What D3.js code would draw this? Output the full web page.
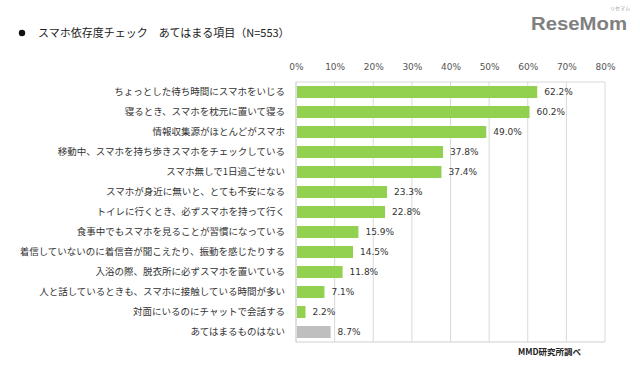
<!DOCTYPE html>
<html>
<head>
<meta charset="utf-8">
<script src="https://cdn.jsdelivr.net/npm/d3@7"></script>
<style>
  body{margin:0;background:#fff;}
  svg{display:block;}
</style>
</head>
<body>
<svg id="chart" width="640" height="371"></svg>
<script>
"use strict";

// data
const categories = [
  "ちょっとした待ち時間にスマホをいじる",
  "寝るとき、スマホを枕元に置いて寝る",
  "情報収集源がほとんどがスマホ",
  "移動中、スマホを持ち歩きスマホをチェックしている",
  "スマホ無しで1日過ごせない",
  "スマホが身近に無いと、とても不安になる",
  "トイレに行くとき、必ずスマホを持って行く",
  "食事中でもスマホを見ることが習慣になっている",
  "着信していないのに着信音が聞こえたり、振動を感じたりする",
  "入浴の際、脱衣所に必ずスマホを置いている",
  "人と話しているときも、スマホに接触している時間が多い",
  "対面にいるのにチャットで会話する",
  "あてはまるものはない"
]
const values = [62.2, 60.2, 49.0, 37.8, 37.4, 23.3, 22.8, 15.9, 14.5, 11.8, 7.1, 2.2, 8.7]
const ticks = [0, 10, 20, 30, 40, 50, 60, 70, 80]

const jp = "'Noto Sans CJK JP', sans-serif"
const num = "'DejaVu Sans', Verdana, sans-serif"
const green = "#92d050"
const grey = "#bfbfbf"

let svg = d3.select("#chart")

// title
svg.append("circle").attr("cx", 22).attr("cy", 33).attr("r", 3.2).attr("fill", "#111")
svg.append("text")
  .attr("x", 38).attr("y", 37)
  .attr("font-family", jp).attr("font-size", 11).attr("fill", "#222")
  .text("スマホ依存度チェック　あてはまる項目（N=553）")

// logo
svg.append("text")
  .attr("x", 531).attr("y", 30)
  .attr("font-family", "'Liberation Sans', Arial, sans-serif")
  .attr("font-weight", "bold").attr("font-size", 18)
  .attr("textLength", 96).attr("lengthAdjust", "spacingAndGlyphs")
  .attr("fill", "#808080")
  .text("ReseMom")
svg.append("text")
  .attr("x", 620).attr("y", 10).attr("text-anchor", "middle")
  .attr("font-family", jp).attr("font-size", 5).attr("fill", "#999")
  .text("リセマム")

let x = d3.scaleLinear().domain([0, 80]).range([296, 605])
let y = d3.scaleBand().domain(categories).range([82, 342]).paddingInner(0.4).paddingOuter(0.2)

// grid
svg.append("g").selectAll("line").data(ticks.slice(1)).enter()
  .append("line")
  .attr("x1", d => x(d)).attr("x2", d => x(d))
  .attr("y1", 82).attr("y2", 342)
  .attr("stroke", "#d9d9d9").attr("stroke-width", 1)
svg.append("line")
  .attr("x1", 296).attr("x2", 605).attr("y1", 82).attr("y2", 82)
  .attr("stroke", "#d9d9d9")
svg.append("line")
  .attr("x1", 296).attr("x2", 605).attr("y1", 342).attr("y2", 342)
  .attr("stroke", "#d0d0d0")
svg.append("line")
  .attr("x1", 296).attr("x2", 296).attr("y1", 82).attr("y2", 342)
  .attr("stroke", "#bfbfbf")

// top axis labels
let xAxis = d3.axisTop(x).tickValues(ticks).tickSize(0).tickPadding(0).tickFormat(d => d + "%")
let ax = svg.append("g").attr("transform", "translate(0,70)").call(xAxis)
ax.select(".domain").remove()
ax.selectAll("text")
  .attr("font-family", num).attr("font-size", 9).attr("fill", "#555")

// bars
svg.append("g").selectAll("rect").data(values).enter()
  .append("rect")
  .attr("x", x(0) + 1)
  .attr("y", (d, i) => y(categories[i]))
  .attr("width", d => x(d) - x(0))
  .attr("height", y.bandwidth())
  .attr("fill", (d, i) => i == values.length - 1 ? grey : green)

// value labels
svg.append("g").selectAll("text").data(values).enter()
  .append("text")
  .attr("x", d => x(d) + 8)
  .attr("y", (d, i) => y(categories[i]) + y.bandwidth() / 2)
  .attr("dy", "0.35em")
  .attr("font-family", num).attr("font-size", 9).attr("fill", "#333")
  .text(d => d.toFixed(1) + "%")

// category labels
svg.append("g").selectAll("text").data(categories).enter()
  .append("text")
  .attr("x", 285)
  .attr("y", d => y(d) + y.bandwidth() / 2)
  .attr("dy", "0.35em")
  .attr("text-anchor", "end")
  .attr("font-family", jp).attr("font-size", 9.5).attr("fill", "#333")
  .text(d => d)

// source
svg.append("text")
  .attr("x", 518).attr("y", 355)
  .attr("font-family", jp).attr("font-weight", "bold").attr("font-size", 8.5).attr("fill", "#222")
  .text("MMD研究所調べ")
</script>
</body>
</html>
